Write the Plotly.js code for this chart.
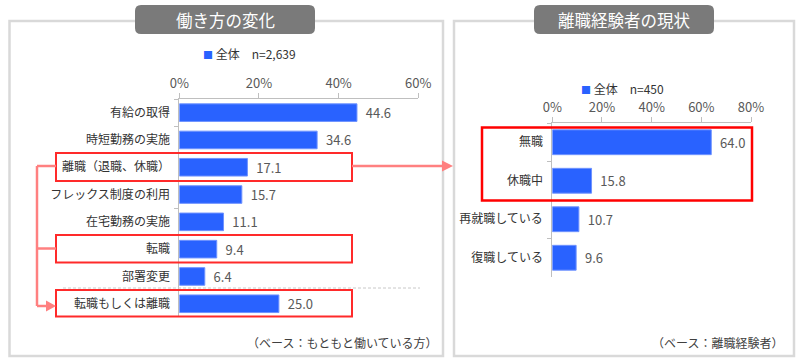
<!DOCTYPE html>
<html>
<head>
<meta charset="utf-8">
<script src="https://cdn.plot.ly/plotly-3.0.1.min.js"></script>
<style>html,body{margin:0;padding:0;background:#fff;}#chart{width:800px;height:362px;}</style>
</head>
<body>
<div id="chart"></div>
<script>
// ---- data ----
const leftCategories = ['有給の取得','時短勤務の実施','離職（退職、休職）','フレックス制度の利用','在宅勤務の実施','転職','部署変更','転職もしくは離職'];
const leftValues = [44.6, 34.6, 17.1, 15.7, 11.1, 9.4, 6.4, 25.0];
const rightCategories = ['無職','休職中','再就職している','復職している'];
const rightValues = [64.0, 15.8, 10.7, 9.6];
const leftTicks = [0, 20, 40, 60];
const leftTickLabels = ['0%', '20%', '40%', '60%'];
const rightTicks = [0, 20, 40, 60, 80];
const rightTickLabels = ['0%', '20%', '40%', '60%', '80%'];
const leftTitle = '働き方の変化';
const rightTitle = '離職経験者の現状';
const leftLegend = '全体　n=2,639';
const rightLegend = '全体　n=450';
const leftNote = '（ベース：もともと働いている方）';
const rightNote = '（ベース：離職経験者）';

// ---- helpers ----
const W = 800, H = 362;
const px = x => x / W;
const py = y => 1 - y / H;
const FONT = '"Noto Sans CJK JP", "Noto Sans", sans-serif';
const BLUE = '#2962ff';
const NB = '\u00a0\u00a0';

function rect(x0, y0, x1, y1, color, width, fill, layer) {
  return {type: 'rect', xref: 'paper', yref: 'paper', x0: px(x0), x1: px(x1), y0: py(y1), y1: py(y0),
    line: {color: color, width: width}, fillcolor: fill || 'rgba(0,0,0,0)', layer: layer || 'above'};
}
function roundRect(x0, y0, x1, y1, r, fill) {
  const X0 = px(x0), X1 = px(x1), Y0 = py(y0), Y1 = py(y1);
  const rx = r / W, ry = r / H;
  const p = `M${X0 + rx},${Y0} L${X1 - rx},${Y0} Q${X1},${Y0} ${X1},${Y0 - ry} L${X1},${Y1 + ry} Q${X1},${Y1} ${X1 - rx},${Y1} L${X0 + rx},${Y1} Q${X0},${Y1} ${X0},${Y1 + ry} L${X0},${Y0 - ry} Q${X0},${Y0} ${X0 + rx},${Y0} Z`;
  return {type: 'path', xref: 'paper', yref: 'paper', path: p, fillcolor: fill, line: {width: 0}, layer: 'above'};
}
function line(x0, y0, x1, y1, color, width, dash) {
  return {type: 'line', xref: 'paper', yref: 'paper', x0: px(x0), x1: px(x1), y0: py(y0), y1: py(y1),
    line: {color: color, width: width, dash: dash || 'solid'}, layer: 'above'};
}
function tri(tipX, tipY, len, half, color) {
  const p = `M${px(tipX)},${py(tipY)} L${px(tipX - len)},${py(tipY - half)} L${px(tipX - len)},${py(tipY + half)} Z`;
  return {type: 'path', xref: 'paper', yref: 'paper', path: p, fillcolor: color, line: {width: 0}, layer: 'above'};
}

const traces = [
  {type: 'bar', orientation: 'h', x: leftValues, y: leftCategories, xaxis: 'x', yaxis: 'y',
   marker: {color: BLUE, line: {color: '#6f93ff', width: 1}},
   texttemplate: NB + '%{x:.1f}', textposition: 'outside', cliponaxis: false, constraintext: 'none',
   textfont: {family: FONT, size: 13, color: '#595959'}, hoverinfo: 'skip', showlegend: false},
  {type: 'bar', orientation: 'h', x: rightValues, y: rightCategories, xaxis: 'x2', yaxis: 'y2',
   marker: {color: BLUE, line: {color: '#6f93ff', width: 1}},
   texttemplate: NB + '%{x:.1f}', textposition: 'outside', cliponaxis: false, constraintext: 'none',
   textfont: {family: FONT, size: 13, color: '#595959'}, hoverinfo: 'skip', showlegend: false}
];

function xaxisCfg(domain, ticks, labels, anchor) {
  return {domain: domain, range: [ticks[0], ticks[ticks.length - 1]], side: 'top', anchor: anchor,
    tickmode: 'array', tickvals: ticks, ticktext: labels, ticks: 'outside', ticklen: 5, tickcolor: '#bfbfbf', tickwidth: 1,
    showline: true, linecolor: '#bfbfbf', linewidth: 1, showgrid: false, zeroline: false,
    tickfont: {family: FONT, size: 13, color: '#595959'}, fixedrange: true};
}
function yaxisCfg(domain, cats, anchor) {
  return {domain: domain, type: 'category', categoryorder: 'array', categoryarray: cats, autorange: 'reversed',
    anchor: anchor, ticks: 'outside', tickson: 'boundaries', ticklen: 4, tickcolor: '#bfbfbf',
    showline: true, linecolor: '#bfbfbf', linewidth: 1, showgrid: false, zeroline: false,
    ticklabelstandoff: 6,
    tickfont: {family: FONT, size: 12, color: '#333333'}, fixedrange: true};
}

const PINK = '#ff8080';
const RED = '#ff2a2a';

const shapes = [
  // frames
  rect(9.5, 21, 443, 356, '#d9d9d9', 2.5, '#ffffff', 'below'),
  rect(454, 21, 794, 356, '#d9d9d9', 2.5, '#ffffff', 'below'),
  // header boxes
  roundRect(135, 5, 315, 34, 6, '#7a7a7a'),
  roundRect(534, 5, 714, 34, 6, '#7a7a7a'),
  // dashed separator
  line(63, 288, 420, 288, '#c8c8c8', 1, '3px,2px'),
  // red boxes left
  rect(56, 153, 352, 181, RED, 2),
  rect(56, 235, 352, 262.5, RED, 2),
  rect(56, 290, 352, 316.5, RED, 2),
  // red box right
  rect(482, 127.5, 752, 200.5, '#ff0000', 2.5),
  // connectors
  line(37, 166, 56, 166, PINK, 2.5),
  line(37, 166, 37, 306, PINK, 2.5),
  line(37, 248.5, 56, 248.5, PINK, 2.5),
  line(37, 306, 47, 306, PINK, 2.5),
  tri(56, 306, 10, 5.5, PINK),
  line(352, 166, 443, 166, PINK, 2.5),
  tri(453, 166, 11, 5.5, PINK)
];

const annotations = [
  {xref: 'paper', yref: 'paper', x: px(225), y: py(19.5), text: leftTitle, showarrow: false,
   xanchor: 'center', yanchor: 'middle', font: {family: FONT, size: 16.5, color: '#ffffff'}},
  {xref: 'paper', yref: 'paper', x: px(624), y: py(19.5), text: rightTitle, showarrow: false,
   xanchor: 'center', yanchor: 'middle', font: {family: FONT, size: 16.5, color: '#ffffff'}},
  {xref: 'paper', yref: 'paper', x: px(201), y: py(53), showarrow: false, xanchor: 'left', yanchor: 'middle',
   text: `<span style="color:${BLUE};font-size:10px">■</span> ${leftLegend}`,
   font: {family: FONT, size: 12, color: '#333333'}},
  {xref: 'paper', yref: 'paper', x: px(579), y: py(88), showarrow: false, xanchor: 'left', yanchor: 'middle',
   text: `<span style="color:${BLUE};font-size:10px">■</span> ${rightLegend}`,
   font: {family: FONT, size: 12, color: '#333333'}},
  {xref: 'paper', yref: 'paper', x: px(440), y: py(342), text: leftNote, showarrow: false,
   xanchor: 'right', yanchor: 'middle', font: {family: FONT, size: 12, color: '#404040'}},
  {xref: 'paper', yref: 'paper', x: px(785), y: py(342), text: rightNote, showarrow: false,
   xanchor: 'right', yanchor: 'middle', font: {family: FONT, size: 12, color: '#404040'}}
];

const layout = {
  width: W, height: H, margin: {l: 0, r: 0, t: 0, b: 0},
  paper_bgcolor: '#ffffff', plot_bgcolor: 'rgba(0,0,0,0)',
  font: {family: FONT},
  bargap: 0.355, showlegend: false,
  xaxis: xaxisCfg([px(179.3), px(418.3)], leftTicks, leftTickLabels, 'y'),
  yaxis: yaxisCfg([py(317.4), py(99)], leftCategories, 'x'),
  xaxis2: xaxisCfg([px(552.3), px(751)], rightTicks, rightTickLabels, 'y2'),
  yaxis2: yaxisCfg([py(277), py(123)], rightCategories, 'x2'),
  shapes: shapes, annotations: annotations
};

Plotly.newPlot('chart', traces, layout, {staticPlot: true, displayModeBar: false});
</script>
</body>
</html>
